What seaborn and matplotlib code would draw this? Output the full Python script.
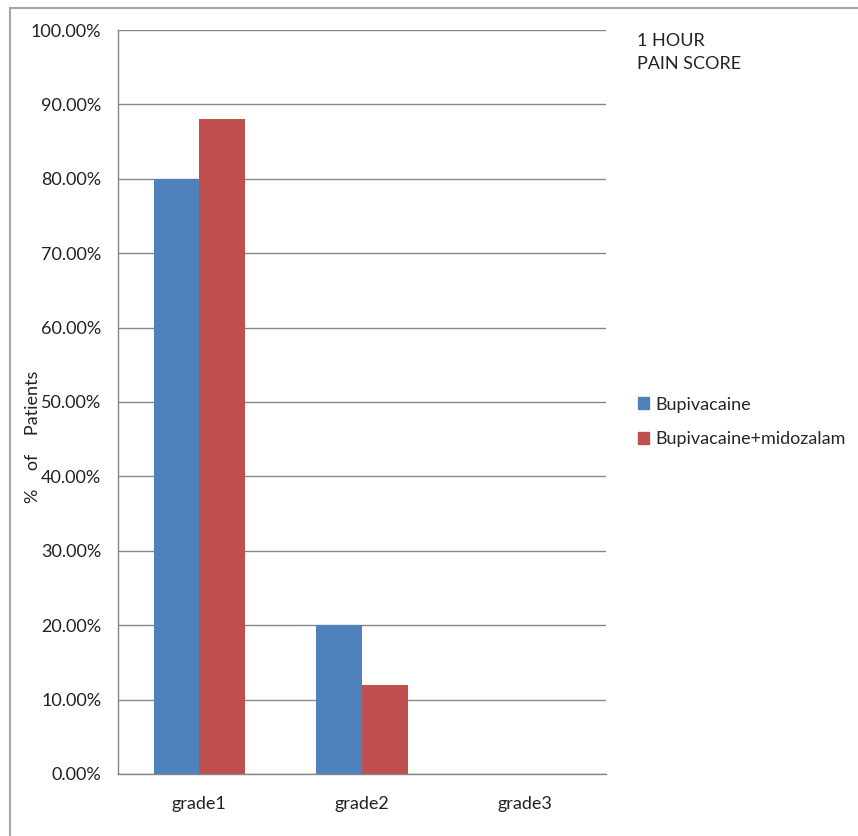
import pandas as pd
import matplotlib.pyplot as plt
import seaborn as sns
from matplotlib.patches import Rectangle
from matplotlib.ticker import PercentFormatter, FixedLocator

# Data
grades = ['grade1', 'grade2', 'grade3']
bupivacaine = [0.80, 0.20, 0.0]
bupi_midozalam = [0.88, 0.12, 0.0]
groups = ['Bupivacaine', 'Bupivacaine+midozalam']
colors = ['#4F81BD', '#C0504D']

df = pd.DataFrame({
    'grade': grades * 2,
    'group': [groups[0]] * 3 + [groups[1]] * 3,
    'value': bupivacaine + bupi_midozalam,
})

sns.set_style('white')
plt.rcParams['font.family'] = ['Lato', 'DejaVu Sans']
FS = 13

fig = plt.figure(figsize=(8.58, 8.36), dpi=100)
ax = fig.add_axes([0.1375, 0.0742, 0.5688, 0.8899])

sns.barplot(data=df, x='grade', y='value', hue='group', palette=colors,
            width=0.56, saturation=1, linewidth=0, legend=False, ax=ax)

ax.set_xlim(-0.5, 2.5)
ax.set_ylim(0, 1.0)
ax.set_yticks([i / 10 for i in range(11)])
ax.yaxis.set_major_formatter(PercentFormatter(1.0, decimals=2))
ax.yaxis.grid(True, color='#868686', linewidth=1)
ax.set_axisbelow(True)

# category boundary ticks like Excel
ax.xaxis.set_minor_locator(FixedLocator([-0.5, 0.5, 1.5, 2.5]))
ax.tick_params(axis='x', which='major', length=0, labelsize=FS, pad=16, colors='#222222')
ax.tick_params(axis='x', which='minor', length=6, color='#868686', direction='out')
ax.tick_params(axis='y', length=6, color='#868686', labelcolor='#222222',
               direction='out', labelsize=FS, pad=6)

for side in ['top', 'right']:
    ax.spines[side].set_visible(False)
for side in ['left', 'bottom']:
    ax.spines[side].set_color('#868686')
    ax.spines[side].set_linewidth(1)

ax.set_xlabel('')
ax.set_ylabel('')
fig.text(33 / 858, 1 - 437 / 836, '%    of    Patients', rotation=90,
         ha='center', va='center', fontsize=FS, color='#222222')

fig.text(637 / 858, 1 - 33 / 836, '1 HOUR\nPAIN SCORE', ha='left', va='top',
         fontsize=FS, color='#222222', linespacing=1.55)

# legend
handles = [Rectangle((0, 0), 1, 1, color=c) for c in colors]
fig.legend(handles, groups, loc='center left', bbox_to_anchor=(622 / 858, 1 - 422 / 836),
           frameon=False, fontsize=FS, handlelength=0.6, handleheight=0.6,
           handletextpad=0.35, labelspacing=1.05)

# outer chart border
fig.patches.append(Rectangle((10 / 858, -0.05), 1.1, 1 - 8 / 836 + 0.05,
                             transform=fig.transFigure, fill=False,
                             edgecolor='#A6A6A6', linewidth=1.5))

fig.savefig('out.png', dpi=100)
